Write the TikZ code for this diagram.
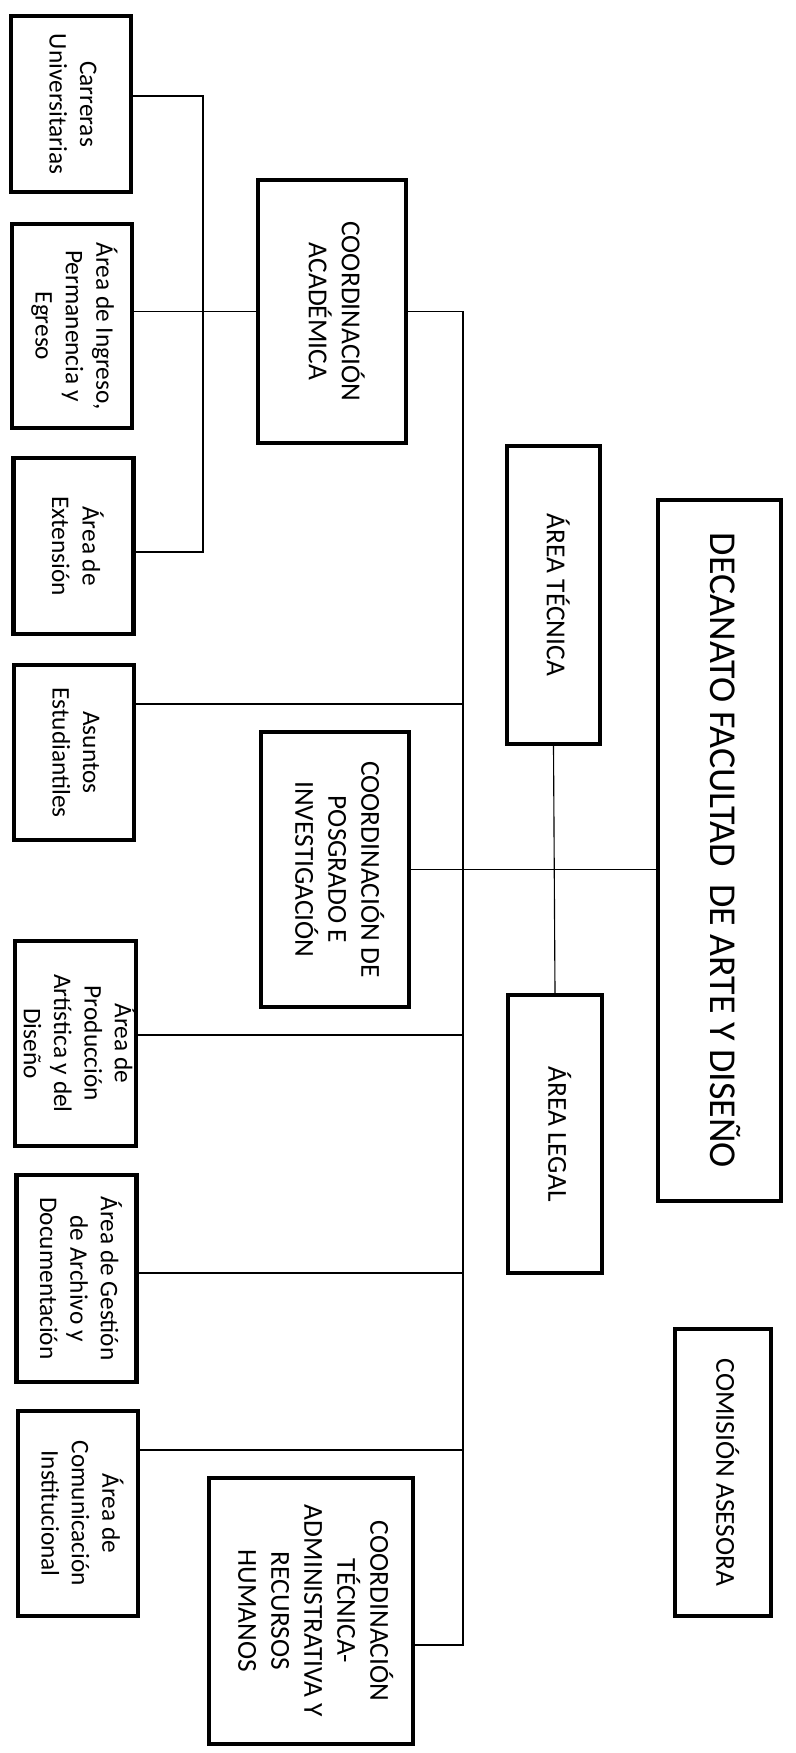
\documentclass[tikz,border=0pt]{standalone}
\usepackage{fontspec}
\setmainfont{Carlito}
\usepackage{tikz}

% Text that runs from top to bottom inside a box.
\newcommand{\sidetext}[1]{\rotatebox{-90}{\begin{tabular}{@{}c@{}}#1\end{tabular}}}

\begin{document}
\begin{tikzpicture}[%
        x = 0.025cm,
        y = -0.025cm,
        line cap = round,
        box/.style = {
            draw = black,
            line width = 3pt,
            fill = white,
            inner sep = 0,
            font = \fontsize{18}{21.6}\selectfont
        },
        leftbox/.style = {
            box,
            minimum width = 3cm
        },
        capsbox/.style = {
            box,
            font = \fontsize{19.5}{23.5}\selectfont
        },
        link/.style = {
            draw = black,
            line width = 0.8pt
        }
    ]

        % Keep the page the size of the scan.
        \useasboundingbox (0, 0) rectangle (795, 1753);

        % Left column of areas.
        \node[leftbox, minimum height = 4.4cm] at (71, 104) (carreras)
            {\sidetext{Carreras\\Universitarias}};
        \node[leftbox, minimum height = 5.1cm] at (72, 326) (ingreso)
            {\sidetext{Área de Ingreso,\\Permanencia y\\Egreso}};
        \node[leftbox, minimum height = 4.4cm] at (73.5, 546) (extension)
            {\sidetext{Área de\\Extensión}};
        \node[leftbox, minimum height = 4.375cm] at (74, 752.5) (asuntos)
            {\sidetext{Asuntos\\Estudiantiles}};
        \node[leftbox, minimum height = 5.125cm] at (75.5, 1043.5) (produccion)
            {\sidetext{Área de\\Producción\\Artística y del\\Diseño}};
        \node[leftbox, minimum height = 5.175cm] at (76.5, 1278.5) (gestion)
            {\sidetext{Área de Gestión\\de Archivo y\\Documentación}};
        \node[leftbox, minimum height = 5.125cm] at (78, 1513.5) (comunicacion)
            {\sidetext{Área de\\Comunicación\\Institucional}};

        % Coordinations.
        \node[capsbox, minimum width = 3.7cm, minimum height = 6.575cm]
            at (332, 311.5) (academica)
            {\sidetext{COORDINACIÓN\\ACADÉMICA}};
        \node[capsbox, minimum width = 3.7cm, minimum height = 6.875cm]
            at (335, 869.5) (posgrado)
            {\sidetext{COORDINACIÓN DE\\POSGRADO E\\INVESTIGACIÓN}};
        \node[capsbox, minimum width = 5.1cm, minimum height = 6.65cm]
            at (311, 1611) (tecadmin)
            {\sidetext{COORDINACIÓN\\TÉCNICA-\\ADMINISTRATIVA Y\\RECURSOS\\HUMANOS}};

        % Staff areas and the dean.
        \node[capsbox, minimum width = 2.325cm, minimum height = 7.45cm]
            at (553.5, 595) (tecnica) {\sidetext{ÁREA TÉCNICA}};
        \node[capsbox, minimum width = 2.35cm, minimum height = 6.95cm]
            at (555, 1134) (legal) {\sidetext{ÁREA LEGAL}};
        \node[box, font = \fontsize{27}{32}\selectfont,
              minimum width = 3.075cm, minimum height = 17.525cm]
            at (719.5, 850.5) (decanato)
            {\sidetext{DECANATO FACULTAD\ \ DE ARTE Y DISEÑO}};
        \node[capsbox, minimum width = 2.4cm, minimum height = 7.175cm]
            at (723, 1472.5) (comision) {\sidetext{COMISIÓN ASESORA}};

        % Points where the lines meet.
        \coordinate (acadTop) at (203, 96);
        \coordinate (acadBot) at (203, 552);
        \coordinate (asuntosJoin) at (463, 704);
        \coordinate (produccionJoin) at (463, 1035);
        \coordinate (gestionJoin) at (463, 1273);
        \coordinate (comunicacionJoin) at (463, 1450);
        \coordinate (mainBot) at (463, 1645);

        % Tree under the academic coordination.
        \draw[link] (carreras.east |- acadTop) -- (acadTop)
                    -- (acadBot) -- (extension.east |- acadBot);
        \draw[link] (ingreso.east |- academica.west) -- (academica.west);

        % Main line from the academic coordination down.
        \draw[link] (academica.east) -| (mainBot) -- (tecadmin.east |- mainBot);
        \draw[link] (asuntos.east |- asuntosJoin) -- (asuntosJoin);
        \draw[link] (produccion.east |- produccionJoin) -- (produccionJoin);
        \draw[link] (gestion.east |- gestionJoin) -- (gestionJoin);
        \draw[link] (comunicacion.east |- comunicacionJoin) -- (comunicacionJoin);

        % Dean, staff areas and postgraduate.
        \draw[link] (posgrado.east) -- (decanato.west |- posgrado.east);
        \draw[link] (tecnica.south) -- (legal.north);
    \end{tikzpicture}
\end{document}
